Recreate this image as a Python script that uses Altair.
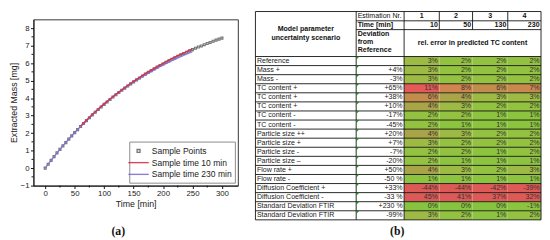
import altair as alt
import pandas as pd

FONT = "Liberation Sans"
SERIF = "Liberation Serif"

# ---------------- panel (a): extraction curve ----------------
series_names = ["Sample Points", "Sample time 10 min", "Sample time 230 min"]
t_points = list(range(0, 301, 5))
mass_points = [0.00, 0.22, 0.44, 0.66, 0.87, 1.07, 1.27, 1.46, 1.66, 1.84, 2.03,
               2.20, 2.38, 2.55, 2.71, 2.88, 3.04, 3.19, 3.35, 3.49, 3.64,
               3.78, 3.92, 4.06, 4.19, 4.32, 4.45, 4.57, 4.69, 4.81, 4.93,
               5.04, 5.15, 5.26, 5.37, 5.47, 5.57, 5.67, 5.77, 5.86, 5.95,
               6.04, 6.13, 6.22, 6.30, 6.39, 6.47, 6.55, 6.62, 6.70, 6.77,
               6.85, 6.92, 6.98, 7.05, 7.12, 7.18, 7.25, 7.31, 7.37, 7.43]
t_10 = list(range(60, 251, 10))
mass_10 = [2.40, 2.74, 3.07, 3.38, 3.67, 3.95, 4.22, 4.48, 4.72, 4.96,
           5.18, 5.40, 5.60, 5.80, 5.99, 6.17, 6.34, 6.50, 6.66, 6.82]
t_230 = list(range(0, 251, 10))
mass_230 = [0.00, 0.44, 0.87, 1.27, 1.66, 2.03, 2.38, 2.71, 3.04, 3.35, 3.64,
            3.92, 4.19, 4.44, 4.68, 4.91, 5.12, 5.33, 5.52, 5.71, 5.89,
            6.06, 6.22, 6.37, 6.52, 6.66]
x_ticks = [0, 50, 100, 150, 200, 250, 300]
x_minor = [25, 75, 125, 175, 225, 275]
y_ticks = [-1, 0, 1, 2, 3, 4, 5, 6, 7, 8]
y_minor = [-0.5, 0.5, 1.5, 2.5, 3.5, 4.5, 5.5, 6.5, 7.5]

# ---------------- panel (b): uncertainty table ----------------
scenarios = ["Reference", "Mass +", "Mass -", "TC content +", "TC content +",
             "TC content +", "TC content -", "TC content -", "Particle size ++",
             "Particle size +", "Particle size -", "Particle size \u2013",
             "Flow rate +", "Flow rate -", "Diffusion Coefficient +",
             "Diffusion Coefficient -", "Standard Deviation FTIR",
             "Standard Deviation FTIR"]
deviations = ["", "+4%", "-3%", "+65%", "+38%", "+10%", "-17%", "-45%", "+20%",
              "+7%", "-7%", "-20%", "+50%", "-50 %", "+33%", "-33 %", "+230 %", "-99%"]
est_nr = ["1", "2", "3", "4"]
est_time = ["10", "50", "130", "230"]
err_est1 = [3, 3, 3, 11, 6, 4, 2, 2, 4, 3, 2, 2, 4, 1, -44, 45, 0, 3]
err_est2 = [2, 2, 2, 8, 4, 3, 2, 1, 3, 2, 2, 1, 3, 1, -44, 41, 0, 2]
err_est3 = [2, 2, 2, 6, 3, 2, 1, 1, 2, 2, 1, 1, 2, 1, -42, 37, 0, 1]
err_est4 = [2, 2, 2, 7, 3, 2, 1, 1, 2, 2, 2, 1, 3, 1, -39, 32, -1, 2]
panel_labels = ["(a)", "(b)"]

# =============== chart (a) ===============
W_A, H_A = 209, 170
RED, PURPLE, GREY = "#d8304e", "#7d70d4", "#6a6a6a"
XMIN, XMAX = -20, 327
xs = alt.Scale(domain=[XMIN, XMAX], nice=False, zero=False)
ys = alt.Scale(domain=[-1, 8.5], nice=False, zero=False)
SQUARE = "M-0.27,-0.27L0.27,-0.27L0.27,0.27L-0.27,0.27Z"
LINE = "M-1.9,0L1.9,0"
cs = alt.Scale(domain=series_names, range=[GREY, RED, PURPLE])
ss = alt.Scale(domain=series_names, range=[SQUARE, LINE, LINE])

common_ax = dict(grid=False, labelFont=FONT, titleFont=FONT, labelFontSize=8,
                 titleFontSize=9, titleFontWeight="normal", tickSize=3,
                 tickColor="#111", domainColor="#111", labelColor="#222",
                 titleColor="#222", labelPadding=1.5, titlePadding=2)
xax = alt.Axis(title="Time [min]", values=x_ticks, **common_ax)
yax = alt.Axis(title="Extracted Mass [mg]", values=y_ticks, **common_ax)
X = alt.X("t:Q", scale=xs, axis=xax)
Y = alt.Y("m:Q", scale=ys, axis=yax)

leg = alt.Legend(title=None, orient="bottom-right", offset=3, fillColor="white",
                 strokeColor="#8a8a8a", padding=3, labelFont=FONT,
                 labelFontSize=8.7, labelColor="#222", symbolSize=121,
                 symbolStrokeWidth=1.4, rowPadding=0, labelOffset=7)

pts_df = pd.DataFrame({"t": t_points, "m": mass_points, "series": series_names[0]})
l10_df = pd.DataFrame({"t": t_10, "m": mass_10})
l230_df = pd.DataFrame({"t": t_230, "m": mass_230})

points = alt.Chart(pts_df).mark_point(filled=False, size=55, strokeWidth=1.2, opacity=0.9).encode(
    x=X, y=Y,
    color=alt.Color("series:N", scale=cs, legend=leg),
    shape=alt.Shape("series:N", scale=ss, legend=leg),
)
line230 = alt.Chart(l230_df).mark_line(strokeWidth=1.5, opacity=0.85, color=PURPLE).encode(x=X, y=Y)
line10 = alt.Chart(l10_df).mark_line(strokeWidth=1.4, color=RED).encode(x=X, y=Y)

ymin = alt.Chart(pd.DataFrame({"m": y_minor})).mark_rule(color="#111", strokeWidth=1).encode(
    x=alt.XDatum(XMIN, scale=xs, axis=xax), x2=alt.X2Datum(XMIN - 3.3), y=Y)
xmin = alt.Chart(pd.DataFrame({"t": x_minor})).mark_rule(color="#111", strokeWidth=1).encode(
    x=X, y=alt.YDatum(-1, scale=ys, axis=yax), y2=alt.Y2Datum(-1.11))
lab_a = alt.Chart(pd.DataFrame({"lab": [panel_labels[0]]})).mark_text(
    font=SERIF, fontWeight="bold", fontSize=12, color="#111", baseline="middle").encode(
    x=alt.XDatum(124, scale=xs, axis=xax), y=alt.YDatum(-3.57, scale=ys, axis=yax), text="lab:N")

chart_a = alt.layer(points, line230, line10, ymin, xmin, lab_a).properties(
    width=W_A, height=H_A,
    view=alt.ViewBackground(stroke="#333", strokeWidth=1),
)

# =============== chart (b) ===============
W_B, H_B = 292, 213
RAISE = 8          # table starts this far above the plot top of panel (a)
col_edges = [0, 103, 152, 188, 222, 258, 292]
hdr_edges = [0, 9.5, 18.5, 46]
ROW_H = (H_B - hdr_edges[-1]) / len(scenarios)
row_top = [hdr_edges[-1] + i * ROW_H for i in range(len(scenarios))]
row_mid = [r + ROW_H / 2 for r in row_top]

xt = alt.Scale(domain=[0, W_B], nice=False, zero=False)
yt = alt.Scale(domain=[RAISE, H_B], nice=False, zero=False, reverse=True)

bg = alt.Chart(pd.DataFrame({"x1": [0], "x2": [W_B], "y1": [0], "y2": [H_B]})).mark_rect(
    color="white").encode(x=alt.X("x1:Q", scale=xt, axis=None), x2="x2:Q",
                          y=alt.Y("y1:Q", scale=yt, axis=None), y2="y2:Q")

errs = [err_est1, err_est2, err_est3, err_est4]
cell_rows = []
for j, col in enumerate(errs):
    for i, v in enumerate(col):
        cell_rows.append({"x1": col_edges[2 + j], "x2": col_edges[3 + j],
                          "y1": row_top[i], "y2": row_top[i] + ROW_H,
                          "mag": abs(v), "lab": f"{v}%",
                          "xr": col_edges[3 + j] - 1.5, "ym": row_mid[i]})
cells_df = pd.DataFrame(cell_rows)
cscale = alt.Scale(domain=[0, 1, 2, 3, 4, 6, 8, 11, 45],
                   range=["#86c440", "#8cc43f", "#93c140", "#9dba44", "#aaa448",
                          "#c28c4d", "#d0844f", "#e35a58", "#dc5a56"],
                   interpolate="rgb")
cells = alt.Chart(cells_df).mark_rect().encode(
    x=alt.X("x1:Q", scale=xt, axis=None), x2="x2:Q",
    y=alt.Y("y1:Q", scale=yt, axis=None), y2="y2:Q",
    color=alt.Color("mag:Q", scale=cscale, legend=None))
cell_txt = alt.Chart(cells_df).mark_text(align="right", baseline="middle", font=FONT,
                                         fontSize=7.2, color="#333").encode(
    x=alt.X("xr:Q", scale=xt, axis=None), y=alt.Y("ym:Q", scale=yt, axis=None), text="lab:N")

segs = []
segs.append((0, W_B, 0, 0))
segs.append((col_edges[1], W_B, hdr_edges[1], hdr_edges[1]))
segs.append((col_edges[1], W_B, hdr_edges[2], hdr_edges[2]))
segs.append((0, W_B, hdr_edges[3], hdr_edges[3]))
for r in row_top[1:]:
    segs.append((0, W_B, r, r))
segs.append((0, W_B, H_B, H_B))
for c in [0, col_edges[1], col_edges[2], W_B]:
    segs.append((c, c, 0, H_B))
for c in col_edges[3:6]:
    segs.append((c, c, 0, hdr_edges[2]))
seg_df = pd.DataFrame(segs, columns=["x1", "x2", "y1", "y2"])
grid = alt.Chart(seg_df).mark_rule(color="#111", strokeWidth=0.9).encode(
    x=alt.X("x1:Q", scale=xt, axis=None), x2="x2:Q",
    y=alt.Y("y1:Q", scale=yt, axis=None), y2="y2:Q")

scen_df = pd.DataFrame({"lab": scenarios, "ym": row_mid, "xl": 1.5})
scen_txt = alt.Chart(scen_df).mark_text(align="left", baseline="middle", font=FONT,
                                        fontSize=7.2, color="#222").encode(
    x=alt.X("xl:Q", scale=xt, axis=None), y=alt.Y("ym:Q", scale=yt, axis=None), text="lab:N")
dev_df = pd.DataFrame({"lab": deviations, "ym": row_mid, "xr": col_edges[2] - 1.5})
dev_txt = alt.Chart(dev_df).mark_text(align="right", baseline="middle", font=FONT,
                                      fontSize=7.2, color="#222").encode(
    x=alt.X("xr:Q", scale=xt, axis=None), y=alt.Y("ym:Q", scale=yt, axis=None), text="lab:N")

tri_df = pd.DataFrame({"xp": col_edges[1] + 1.6, "yp": [r + 1.6 for r in row_top]})
tris = alt.Chart(tri_df).mark_point(shape="M-1,-1L1,-1L-1,1Z", filled=True, size=10,
                                    color="#1d8a22", opacity=1).encode(
    x=alt.X("xp:Q", scale=xt, axis=None), y=alt.Y("yp:Q", scale=yt, axis=None))

hdr_rows = []
hdr_rows.append({"lab": "Model parameter", "x": col_edges[1] / 2, "y": 18, "al": "center", "w": "bold"})
hdr_rows.append({"lab": "uncertainty scenario", "x": col_edges[1] / 2, "y": 27, "al": "center", "w": "bold"})
hdr_rows.append({"lab": "Estimation Nr.", "x": col_edges[1] + 1.5, "y": 4.9, "al": "left", "w": "normal"})
hdr_rows.append({"lab": "Time [min]", "x": col_edges[1] + 1.5, "y": 14.1, "al": "left", "w": "bold"})
for k, t in enumerate(["Deviation", "from", "Reference"]):
    hdr_rows.append({"lab": t, "x": col_edges[1] + 1.5, "y": 23 + 8.3 * k, "al": "left", "w": "bold"})
for j in range(4):
    hdr_rows.append({"lab": est_nr[j], "x": (col_edges[2 + j] + col_edges[3 + j]) / 2, "y": 4.9, "al": "center", "w": "bold"})
    hdr_rows.append({"lab": est_time[j], "x": col_edges[3 + j] - 1.5, "y": 14.1, "al": "right", "w": "bold"})
hdr_rows.append({"lab": "rel. error in predicted TC content", "x": (col_edges[2] + W_B) / 2, "y": 32, "al": "center", "w": "bold"})
hdr_df = pd.DataFrame(hdr_rows)

hdr_layers = []
for al in ["left", "center", "right"]:
    for w in ["bold", "normal"]:
        sub = hdr_df[(hdr_df.al == al) & (hdr_df.w == w)]
        if len(sub) == 0:
            continue
        hdr_layers.append(alt.Chart(sub).mark_text(align=al, baseline="middle", font=FONT,
                                                   fontSize=7.2, fontWeight=w, color="#111").encode(
            x=alt.X("x:Q", scale=xt, axis=None), y=alt.Y("y:Q", scale=yt, axis=None), text="lab:N"))

lab_b = alt.Chart(pd.DataFrame({"lab": [panel_labels[1]], "x": [145], "y": [224]})).mark_text(
    font=SERIF, fontWeight="bold", fontSize=12, color="#111", baseline="middle").encode(
    x=alt.X("x:Q", scale=xt, axis=None), y=alt.Y("y:Q", scale=yt, axis=None), text="lab:N")

chart_b = alt.layer(bg, cells, grid, cell_txt, scen_txt, dev_txt, tris, *hdr_layers, lab_b).properties(
    width=W_B, height=H_B - RAISE,
    view=alt.ViewBackground(strokeOpacity=0),
)

chart = (
    alt.hconcat(chart_a, chart_b, spacing=16)
    .resolve_scale(color="independent", shape="independent")
    .resolve_legend(color="independent", shape="independent")
    .properties(padding=0)
    .configure(font=FONT)
)

chart.save("out.html", embed_options={"renderer": "svg", "actions": False})
